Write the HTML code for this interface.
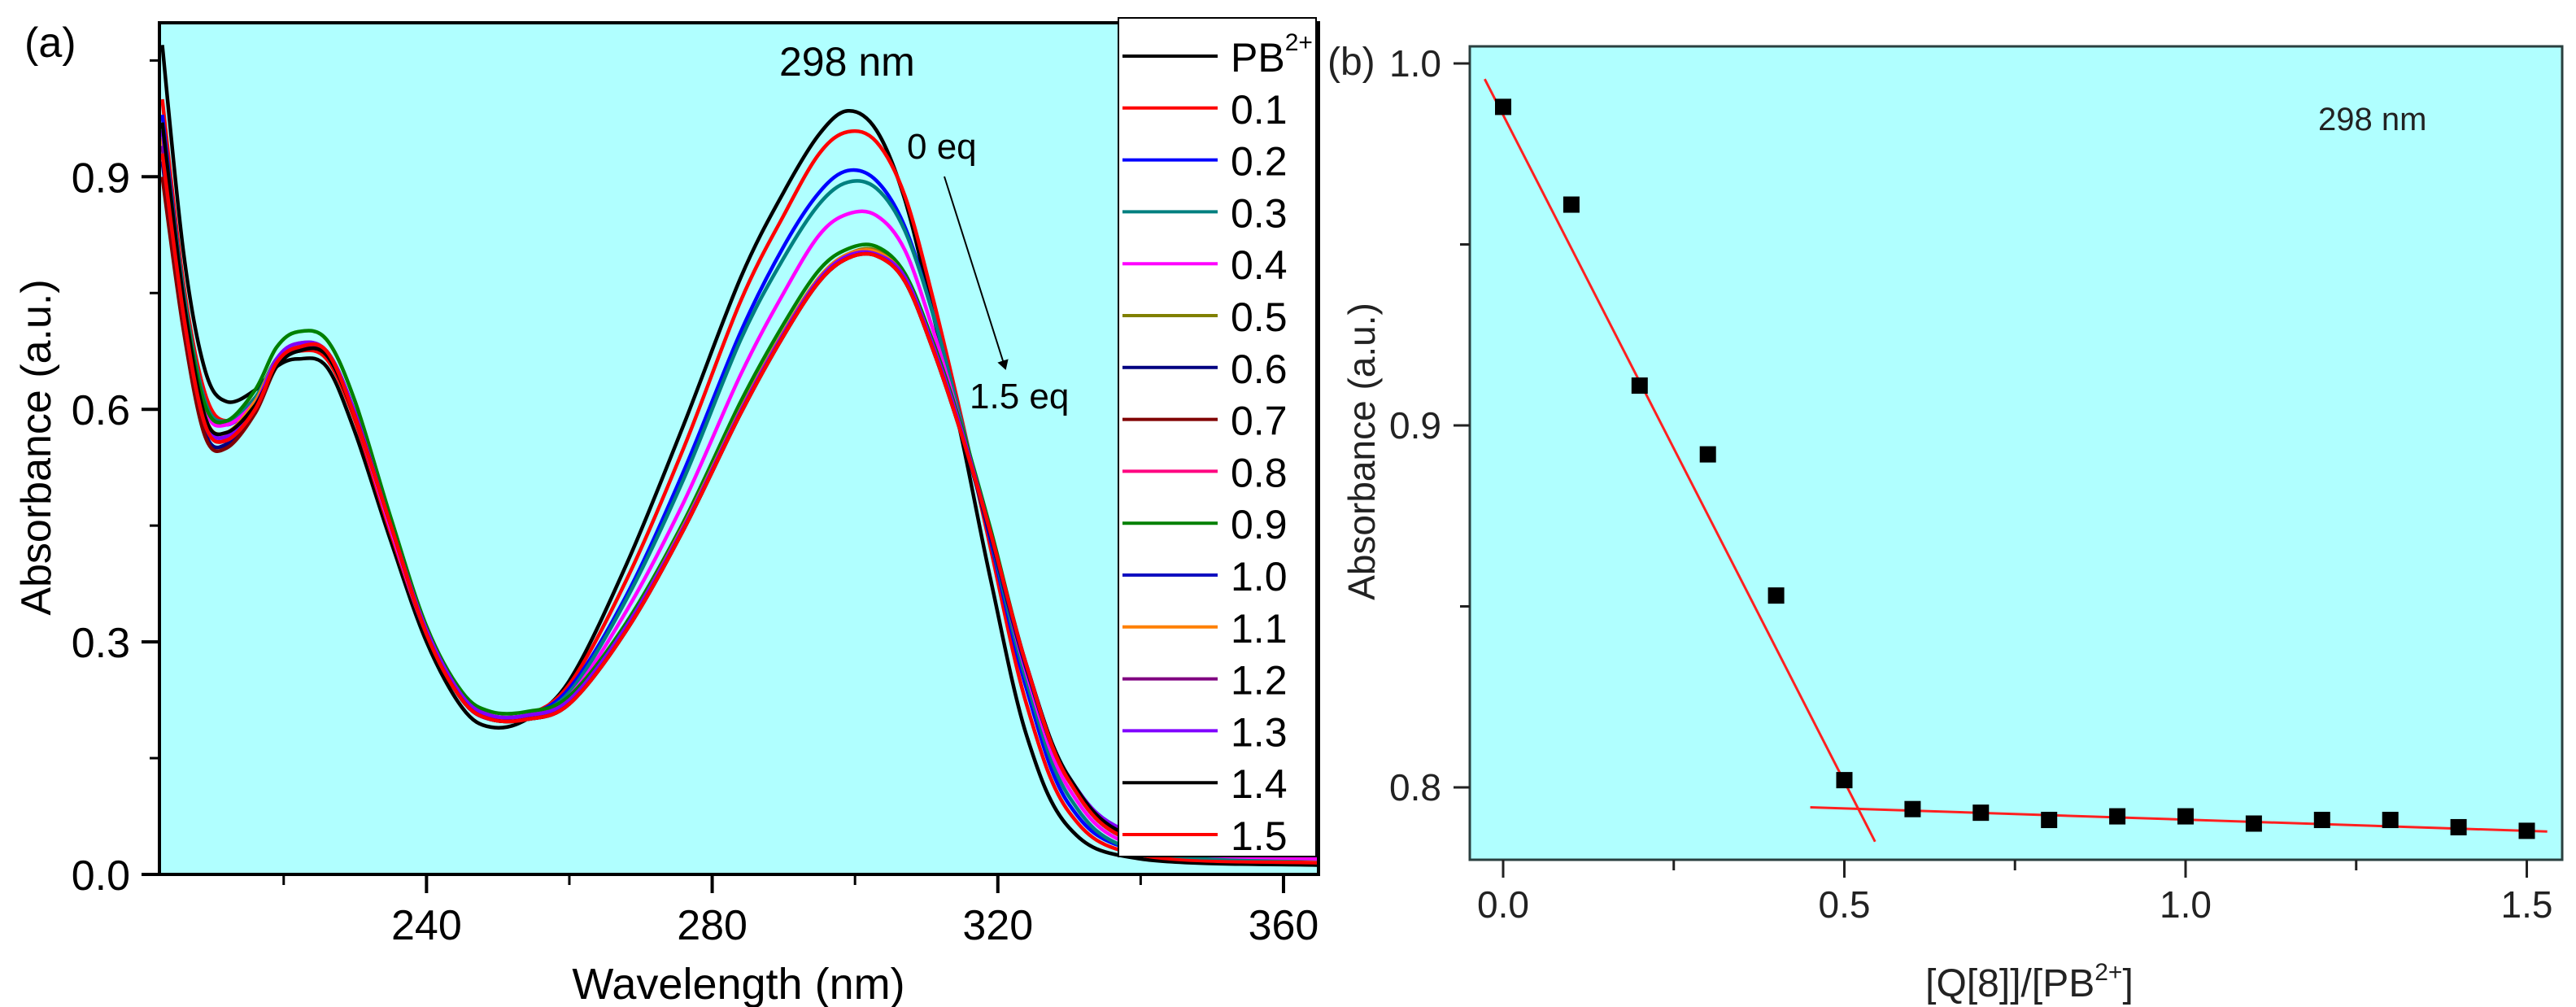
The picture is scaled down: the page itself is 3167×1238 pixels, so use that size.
<!DOCTYPE html>
<html><head><meta charset="utf-8"><style>
html,body{margin:0;padding:0;background:#fff;}
svg{display:block;font-family:"Liberation Sans",Arial,sans-serif;}
</style></head><body>
<svg id="fig" width="3167" height="1238" viewBox="0 0 3167 1238">
<defs>
<clipPath id="clipA"><rect x="196" y="28" width="1425" height="1047"/></clipPath>
<marker id="arrowhead" markerWidth="12" markerHeight="14" refX="10" refY="7" orient="auto" markerUnits="userSpaceOnUse"><path d="M0,0 L12,7 L0,14 Z" fill="#000"/></marker>
</defs>
<g id="panelA">
<rect x="196" y="28" width="1425" height="1047" fill="#b0ffff"/>
<g id="curvesA" clip-path="url(#clipA)"></g>
<rect x="196" y="28" width="1425" height="1047" fill="none" stroke="#000" stroke-width="4"/>
<g id="ticksA"></g>
<text x="30" y="70" font-size="52">(a)</text>
<text transform="translate(62,550) rotate(-90)" text-anchor="middle" font-size="52">Absorbance (a.u.)</text>
<text x="908" y="1228" text-anchor="middle" font-size="54">Wavelength (nm)</text>
<text x="958" y="93" font-size="50">298 nm</text>
<text x="1115" y="195" font-size="44">0 eq</text>
<text x="1192" y="502" font-size="44">1.5 eq</text>
<line x1="1161" y1="217" x2="1236" y2="453" stroke="#000" stroke-width="2" marker-end="url(#arrowhead)"/>
<g id="legendA">
<rect x="1375" y="22" width="243" height="1031" fill="#fff" stroke="#000" stroke-width="2"/>
</g>
</g>
<g id="panelB">
<rect x="1807" y="57" width="1343" height="1000" fill="#b0ffff" stroke="#2a3f3f" stroke-width="3"/>
<g id="marksB"></g>
<g id="ticksB"></g>
<text x="1632" y="92" font-size="48" fill="#222">(b)</text>
<text transform="translate(1690,555) rotate(-90)" text-anchor="middle" font-size="46" fill="#222">Absorbance (a.u.)</text>
<text x="2495" y="1225" text-anchor="middle" font-size="48" fill="#222">[Q[8]]/[PB<tspan dy="-20" font-size="30">2+</tspan><tspan dy="20">]</tspan></text>
<text x="2850" y="160" font-size="40" fill="#222">298 nm</text>
</g>
</svg>
<script>
// ---------- Panel (a) data ----------
const wavelengths = [203,206,209,212,216,219,222,226,230,235,240,245,249,254,260,268,276,284,290,295,299,303,307,311,315,319,324,330,340,365];
const seriesNames = ["PB","0.1","0.2","0.3","0.4","0.5","0.6","0.7","0.8","0.9","1.0","1.1","1.2","1.3","1.4","1.5"];
const seriesColors = ["#000000","#ff0000","#0000ff","#008080","#ff00ff","#808000","#000080","#800000","#ff0080","#008000","#1010c0","#ff8000","#800080","#8000ff","#000000","#ff0000"];
const sPB  = [1.07,0.80,0.65,0.61,0.625,0.655,0.665,0.655,0.57,0.43,0.30,0.215,0.19,0.20,0.25,0.40,0.58,0.77,0.88,0.955,0.985,0.96,0.87,0.72,0.56,0.38,0.18,0.06,0.02,0.012];
const s01 = [1.0,0.76,0.62,0.585,0.615,0.66,0.675,0.665,0.585,0.44,0.31,0.225,0.20,0.205,0.245,0.38,0.55,0.74,0.85,0.93,0.958,0.945,0.875,0.74,0.585,0.42,0.22,0.08,0.025,0.015];
const s02 = [0.98,0.75,0.61,0.58,0.61,0.66,0.68,0.67,0.59,0.445,0.31,0.225,0.20,0.205,0.24,0.36,0.52,0.70,0.81,0.88,0.908,0.895,0.835,0.72,0.58,0.43,0.24,0.09,0.03,0.02];
const s03 = [0.97,0.75,0.61,0.585,0.615,0.665,0.68,0.67,0.59,0.445,0.31,0.225,0.20,0.205,0.235,0.355,0.51,0.69,0.795,0.865,0.893,0.885,0.83,0.72,0.58,0.435,0.25,0.10,0.03,0.02];
const s04 = [0.96,0.74,0.60,0.58,0.61,0.66,0.68,0.67,0.59,0.445,0.31,0.225,0.20,0.205,0.23,0.34,0.48,0.645,0.75,0.825,0.852,0.85,0.805,0.70,0.575,0.44,0.26,0.11,0.035,0.02];
const s05 = [0.93,0.72,0.58,0.56,0.60,0.66,0.68,0.675,0.595,0.45,0.315,0.23,0.205,0.205,0.225,0.32,0.45,0.60,0.70,0.77,0.80,0.805,0.77,0.68,0.57,0.44,0.27,0.12,0.04,0.025];
const s06 = [0.92,0.71,0.57,0.555,0.60,0.655,0.675,0.67,0.59,0.45,0.31,0.225,0.20,0.20,0.22,0.315,0.445,0.595,0.695,0.765,0.795,0.80,0.765,0.675,0.565,0.435,0.265,0.12,0.04,0.025];
const s07 = [0.90,0.70,0.565,0.55,0.595,0.655,0.675,0.67,0.59,0.45,0.31,0.225,0.20,0.20,0.22,0.315,0.445,0.595,0.695,0.765,0.795,0.80,0.765,0.675,0.565,0.44,0.27,0.12,0.04,0.028];
const s08 = [0.94,0.72,0.58,0.56,0.60,0.66,0.68,0.675,0.595,0.45,0.315,0.23,0.205,0.205,0.225,0.32,0.45,0.60,0.70,0.77,0.80,0.803,0.77,0.68,0.57,0.44,0.27,0.12,0.045,0.03];
const s09 = [0.95,0.74,0.605,0.585,0.625,0.68,0.70,0.69,0.61,0.46,0.32,0.235,0.21,0.21,0.23,0.325,0.455,0.61,0.71,0.78,0.807,0.81,0.775,0.685,0.575,0.445,0.27,0.12,0.04,0.025];
const s10 = [0.93,0.72,0.585,0.565,0.605,0.66,0.68,0.675,0.595,0.45,0.315,0.23,0.205,0.205,0.225,0.32,0.45,0.60,0.70,0.77,0.80,0.803,0.77,0.68,0.57,0.44,0.27,0.12,0.045,0.03];
const s11 = [0.95,0.73,0.59,0.57,0.61,0.665,0.685,0.675,0.595,0.45,0.315,0.23,0.205,0.205,0.225,0.32,0.45,0.60,0.70,0.77,0.80,0.803,0.77,0.68,0.57,0.44,0.27,0.12,0.045,0.03];
const s12 = [0.94,0.72,0.58,0.56,0.60,0.66,0.68,0.675,0.595,0.45,0.315,0.23,0.205,0.205,0.225,0.32,0.448,0.598,0.698,0.768,0.798,0.80,0.77,0.68,0.57,0.44,0.27,0.125,0.05,0.035];
const s13 = [0.96,0.73,0.585,0.565,0.605,0.665,0.685,0.675,0.595,0.45,0.315,0.23,0.205,0.205,0.225,0.32,0.448,0.598,0.698,0.768,0.798,0.80,0.77,0.68,0.57,0.44,0.27,0.125,0.05,0.035];
const s14 = [0.97,0.74,0.59,0.57,0.605,0.655,0.675,0.67,0.59,0.45,0.31,0.225,0.20,0.20,0.22,0.315,0.445,0.595,0.695,0.765,0.795,0.798,0.765,0.675,0.565,0.44,0.27,0.125,0.045,0.03];
const s15 = [0.93,0.72,0.58,0.56,0.60,0.66,0.68,0.675,0.59,0.45,0.31,0.225,0.20,0.20,0.22,0.315,0.445,0.595,0.695,0.765,0.795,0.798,0.765,0.675,0.565,0.44,0.27,0.12,0.04,0.025];
const seriesA = [sPB,s01,s02,s03,s04,s05,s06,s07,s08,s09,s10,s11,s12,s13,s14,s15];
const xTicksA = [240,280,320,360];
const xMinorA = [220,260,300,340];
const yTicksA = [0.0,0.3,0.6,0.9];
const yMinorA = [0.15,0.45,0.75,1.05];

// ---------- Panel (b) data ----------
const ratios = [0.0,0.1,0.2,0.3,0.4,0.5,0.6,0.7,0.8,0.9,1.0,1.1,1.2,1.3,1.4,1.5];
const absorb = [0.988,0.961,0.911,0.892,0.853,0.802,0.794,0.793,0.791,0.792,0.792,0.790,0.791,0.791,0.789,0.788];
const fit1X = [-0.027,0.545];
const fit1Y = [0.9957,0.785];
const fit2X = [0.45,1.53];
const fit2Y = [0.7945,0.7878];
const xTicksB = [0.0,0.5,1.0,1.5];
const xMinorB = [0.25,0.75,1.25];
const yTicksB = [0.8,0.9,1.0];
const yMinorB = [0.85,0.95];

const NS = "http://www.w3.org/2000/svg";
function mk(tag, attrs, parent){const e=document.createElementNS(NS,tag);for(const k in attrs)e.setAttribute(k,attrs[k]);parent.appendChild(e);return e;}

// axis functions
const xA = w => 196 + (w - 202.6) * 8.78;
const yA = a => 1075 - a * 953;
const xB = r => 1848 + r * 839;
const yB = a => 968 - (a - 0.8) * 4450;

function smoothPath(pts){
  let d = "M" + pts[0][0].toFixed(1) + "," + pts[0][1].toFixed(1);
  for (let i=0;i<pts.length-1;i++){
    const p0=pts[Math.max(0,i-1)], p1=pts[i], p2=pts[i+1], p3=pts[Math.min(pts.length-1,i+2)];
    const c1=[p1[0]+(p2[0]-p0[0])/6, p1[1]+(p2[1]-p0[1])/6];
    const c2=[p2[0]-(p3[0]-p1[0])/6, p2[1]-(p3[1]-p1[1])/6];
    d += " C"+c1[0].toFixed(1)+","+c1[1].toFixed(1)+" "+c2[0].toFixed(1)+","+c2[1].toFixed(1)+" "+p2[0].toFixed(1)+","+p2[1].toFixed(1);
  }
  return d;
}

// Panel a curves
const gC = document.getElementById("curvesA");
seriesA.forEach((s, i) => {
  const pts = wavelengths.map((w, j) => [xA(w), yA(s[j])]);
  const p = mk("path", {d: smoothPath(pts), fill: "none", stroke: seriesColors[i], "stroke-width": 4.5, "stroke-linejoin": "round"}, gC);
  
  
});

// Panel a ticks
const gTA = document.getElementById("ticksA");
xTicksA.forEach(v => {
  const l = mk("line", {x1: xA(v), x2: xA(v), y1: 1075, y2: 1098, stroke: "#000", "stroke-width": 4}, gTA);
  
  
  const t = mk("text", {x: xA(v), y: 1155, "text-anchor": "middle", "font-size": 52}, gTA);
  t.textContent = String(v);
  
  
});
xMinorA.forEach(v => {
  const l = mk("line", {x1: xA(v), x2: xA(v), y1: 1075, y2: 1088, stroke: "#000", "stroke-width": 3}, gTA);
  
  
});
yTicksA.forEach(v => {
  const l = mk("line", {x1: 174, x2: 196, y1: yA(v), y2: yA(v), stroke: "#000", "stroke-width": 4}, gTA);
  
  
  const t = mk("text", {x: 160, y: yA(v) + 19, "text-anchor": "end", "font-size": 52}, gTA);
  t.textContent = v.toFixed(1);
  
  
});
yMinorA.forEach(v => {
  const l = mk("line", {x1: 184, x2: 196, y1: yA(v), y2: yA(v), stroke: "#000", "stroke-width": 3}, gTA);
  
  
});

// Legend
const gL = document.getElementById("legendA");
seriesNames.forEach((n, i) => {
  const y = 69 + i * 63.8;
  const g = mk("g", {}, gL);
  
  
  mk("line", {x1: 1380, x2: 1497, y1: y, y2: y, stroke: seriesColors[i], "stroke-width": 4}, g);
  const t = mk("text", {x: 1513, y: y + 19, "font-size": 50}, g);
  if (n === "PB") {
    t.textContent = "PB";
    const sup = mk("tspan", {dy: -26, "font-size": 30}, t);
    sup.textContent = "2+";
  } else {
    t.textContent = n;
  }
});

// Panel b marks
const gM = document.getElementById("marksB");
const f1 = mk("line", {x1: xB(fit1X[0]), y1: yB(fit1Y[0]), x2: xB(fit1X[1]), y2: yB(fit1Y[1]), stroke: "#ff2020", "stroke-width": 3}, gM);


const f2 = mk("line", {x1: xB(fit2X[0]), y1: yB(fit2Y[0]), x2: xB(fit2X[1]), y2: yB(fit2Y[1]), stroke: "#ff2020", "stroke-width": 3}, gM);


ratios.forEach((r, i) => {
  const s = mk("rect", {x: xB(r) - 10, y: yB(absorb[i]) - 10, width: 20, height: 20, fill: "#000"}, gM);
  
  
});

// Panel b ticks
const gTB = document.getElementById("ticksB");
xTicksB.forEach(v => {
  const l = mk("line", {x1: xB(v), x2: xB(v), y1: 1057, y2: 1079, stroke: "#222", "stroke-width": 3}, gTB);
  
  
  const t = mk("text", {x: xB(v), y: 1128, "text-anchor": "middle", "font-size": 46, fill: "#222"}, gTB);
  t.textContent = v.toFixed(1);
  
  
});
xMinorB.forEach(v => {
  const l = mk("line", {x1: xB(v), x2: xB(v), y1: 1057, y2: 1070, stroke: "#222", "stroke-width": 3}, gTB);
  
  
});
yTicksB.forEach(v => {
  const l = mk("line", {x1: 1787, x2: 1807, y1: yB(v), y2: yB(v), stroke: "#222", "stroke-width": 3}, gTB);
  
  
  const t = mk("text", {x: 1772, y: yB(v) + 16, "text-anchor": "end", "font-size": 46, fill: "#222"}, gTB);
  t.textContent = v.toFixed(1);
  
  
});
yMinorB.forEach(v => {
  const l = mk("line", {x1: 1795, x2: 1807, y1: yB(v), y2: yB(v), stroke: "#222", "stroke-width": 3}, gTB);
  
  
});
</script>
</body></html>
